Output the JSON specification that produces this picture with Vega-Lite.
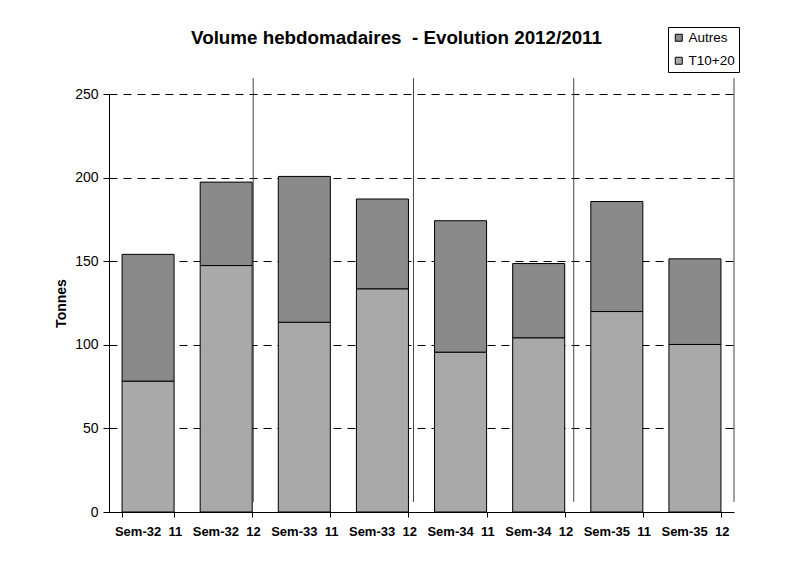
{
  "$schema": "https://vega.github.io/schema/vega-lite/v6.json",
  "width": 625,
  "height": 418,
  "autosize": {"type": "none"},
  "padding": {"left": 109, "top": 94, "right": 60, "bottom": 49},
  "background": "white",
  "config": {
    "font": "Liberation Sans",
    "view": {"stroke": null},
    "axis": {"domainColor": "black", "tickColor": "black", "labelColor": "black", "titleColor": "black", "labelFont": "Liberation Sans", "titleFont": "Liberation Sans"}
  },
  "title": {
    "text": "Volume hebdomadaires \u00a0- Evolution 2012/2011",
    "font": "Liberation Sans",
    "fontSize": 18.8,
    "fontWeight": "bold",
    "color": "black",
    "anchor": "middle",
    "frame": "group",
    "dx": -25,
    "dy": 31,
    "offset": 10
  },
  "datasets": {
    "volumes": [
      {"semaine": "Sem-32\u00a0\u00a011", "serie": "T10+20", "tonnes": 78.3},
      {"semaine": "Sem-32\u00a0\u00a011", "serie": "Autres", "tonnes": 75.8},
      {"semaine": "Sem-32\u00a0\u00a012", "serie": "T10+20", "tonnes": 147.4},
      {"semaine": "Sem-32\u00a0\u00a012", "serie": "Autres", "tonnes": 49.9},
      {"semaine": "Sem-33\u00a0\u00a011", "serie": "T10+20", "tonnes": 113.5},
      {"semaine": "Sem-33\u00a0\u00a011", "serie": "Autres", "tonnes": 87.2},
      {"semaine": "Sem-33\u00a0\u00a012", "serie": "T10+20", "tonnes": 133.5},
      {"semaine": "Sem-33\u00a0\u00a012", "serie": "Autres", "tonnes": 53.7},
      {"semaine": "Sem-34\u00a0\u00a011", "serie": "T10+20", "tonnes": 95.6},
      {"semaine": "Sem-34\u00a0\u00a011", "serie": "Autres", "tonnes": 78.6},
      {"semaine": "Sem-34\u00a0\u00a012", "serie": "T10+20", "tonnes": 104.2},
      {"semaine": "Sem-34\u00a0\u00a012", "serie": "Autres", "tonnes": 44.4},
      {"semaine": "Sem-35\u00a0\u00a011", "serie": "T10+20", "tonnes": 119.9},
      {"semaine": "Sem-35\u00a0\u00a011", "serie": "Autres", "tonnes": 65.8},
      {"semaine": "Sem-35\u00a0\u00a012", "serie": "T10+20", "tonnes": 100.2},
      {"semaine": "Sem-35\u00a0\u00a012", "serie": "Autres", "tonnes": 51.2}
    ],
    "separateurs": [
      {"groupe": 1},
      {"groupe": 2},
      {"groupe": 3},
      {"groupe": 4}
    ]
  },
  "layer": [
    {
      "data": {"name": "volumes"},
      "mark": {"type": "bar", "stroke": "black", "strokeWidth": 1},
      "encoding": {
        "x": {
          "field": "semaine",
          "type": "nominal",
          "sort": null,
          "scale": {"paddingInner": 0.334, "paddingOuter": 0.167},
          "axis": {
            "title": null,
            "labelAngle": 0,
            "labelFontSize": 13,
            "labelFontWeight": "bold",
            "labelPadding": 8,
            "tickBand": "extent",
            "tickSize": 5,
            "domainWidth": 1
          }
        },
        "y": {
          "field": "tonnes",
          "type": "quantitative",
          "stack": "zero",
          "scale": {"domain": [0, 250], "nice": false},
          "axis": {
            "title": "Tonnes",
            "titleFontSize": 14,
            "titleFontWeight": "bold",
            "titlePadding": 6,
            "labelFontSize": 14,
            "labelPadding": 5,
            "values": [0, 50, 100, 150, 200, 250],
            "tickSize": 6,
            "grid": true,
            "gridColor": "black",
            "gridDash": [8, 6],
            "gridWidth": 1
          }
        },
        "color": {
          "field": "serie",
          "type": "nominal",
          "scale": {"domain": ["Autres", "T10+20"], "range": ["#8a8a8a", "#a9a9a9"]},
          "legend": {
            "title": null,
            "orient": "none",
            "legendX": 559,
            "legendY": -67,
            "strokeColor": "black",
            "padding": 4,
            "symbolType": "square",
            "symbolSize": 49,
            "symbolStrokeColor": "black",
            "symbolStrokeWidth": 1,
            "labelFontSize": 13.5,
            "labelFont": "Liberation Sans",
            "labelColor": "black",
            "labelOffset": 3,
            "rowPadding": 8,
            "fillColor": "white"
          }
        },
        "order": {"field": "serie", "sort": "descending"}
      }
    },
    {
      "data": {"name": "separateurs"},
      "mark": {"type": "rule", "color": "#444444", "strokeWidth": 1},
      "encoding": {
        "x": {"field": "groupe", "type": "quantitative", "scale": {"domain": [0.1, 4.0], "nice": false, "zero": false}, "axis": null},
        "y": {"datum": 259.5, "type": "quantitative", "scale": {"domain": [0, 250], "nice": false}},
        "y2": {"datum": 6}
      }
    }
  ],
  "resolve": {"scale": {"x": "independent"}}
}
